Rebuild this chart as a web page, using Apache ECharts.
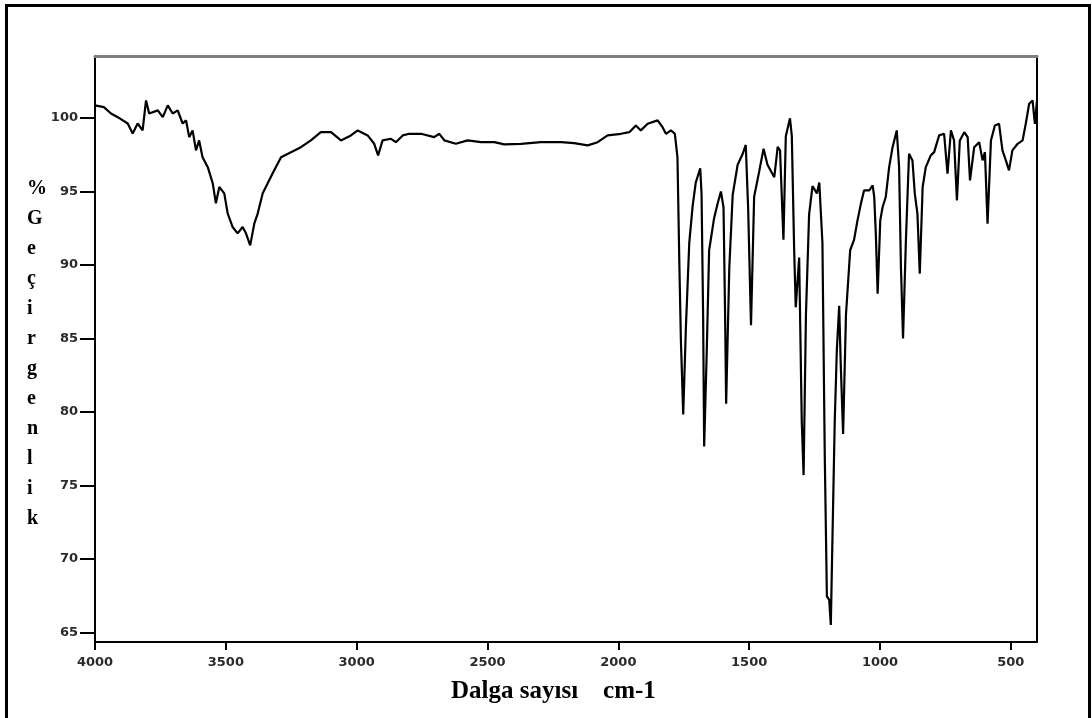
<!DOCTYPE html>
<html>
<head>
<meta charset="utf-8">
<script src="https://cdn.jsdelivr.net/npm/echarts@6/dist/echarts.min.js"></script>
<style>
html,body{margin:0;padding:0;background:#fff;}
#chart{width:1092px;height:718px;}
</style>
</head>
<body>
<div id="chart"></div>
<script>
// Wavenumber (cm-1) of each traced point
const wavenumbers = [4000,3966,3939,3913,3875,3856,3837,3818,3805,3793,
3760,3741,3722,3703,3684,3665,3652,3640,3627,3614,
3602,3589,3569,3550,3538,3525,3506,3493,3474,3455,
3436,3423,3407,3391,3378,3359,3340,3321,3289,3251,
3213,3175,3137,3098,3060,3022,2996,2958,2933,2918,
2901,2869,2850,2824,2799,2754,2704,2684,2665,2621,
2576,2525,2474,2436,2372,2296,2219,2169,2117,2079,
2041,1990,1958,1933,1914,1888,1850,1831,1818,1799,
1784,1774,1767,1761,1752,1742,1729,1716,1704,1687,
1682,1676,1672,1662,1653,1634,1621,1608,1598,1592,
1588,1576,1563,1544,1525,1513,1504,1493,1481,1462,
1445,1430,1404,1391,1382,1369,1360,1344,1337,1328,
1322,1309,1299,1292,1283,1271,1258,1241,1232,1220,
1211,1203,1194,1188,1181,1173,1165,1156,1150,1141,
1130,1114,1099,1086,1073,1061,1041,1028,1022,1016,
1009,999,990,978,965,952,936,927,920,912,
901,889,876,867,857,848,837,825,806,793,
774,755,742,729,717,706,695,678,665,656,
640,621,608,599,589,576,561,545,532,519,
507,494,474,455,443,430,417,408,400];

// % transmittance at each point
const transmittance = [100.84,100.72,100.29,100.04,99.61,98.93,99.61,99.14,101.18,100.29,
100.50,100.04,100.84,100.29,100.50,99.61,99.82,98.68,99.14,97.78,
98.46,97.32,96.64,95.54,94.18,95.29,94.86,93.50,92.57,92.14,
92.57,92.14,91.32,92.82,93.50,94.86,95.54,96.22,97.32,97.66,
98.00,98.46,99.02,99.02,98.46,98.80,99.14,98.80,98.23,97.44,
98.46,98.57,98.34,98.80,98.91,98.91,98.68,98.91,98.46,98.23,
98.46,98.34,98.34,98.19,98.23,98.34,98.34,98.27,98.12,98.34,
98.80,98.91,99.02,99.48,99.14,99.59,99.82,99.36,98.91,99.14,
98.91,97.30,90.26,84.92,79.82,85.65,91.47,94.01,95.60,96.56,
94.86,86.62,77.64,84.19,90.99,93.17,94.14,94.99,93.90,86.62,
80.55,89.77,94.75,96.81,97.53,98.15,93.90,85.89,94.63,96.32,
97.90,96.81,95.96,98.02,97.78,91.71,98.75,99.96,98.75,90.99,
87.11,90.50,79.34,75.70,86.62,93.41,95.35,94.86,95.60,91.47,
76.92,67.45,67.21,65.51,72.06,79.34,84.19,87.22,83.22,78.49,
86.62,90.99,91.71,93.02,94.16,95.06,95.06,95.40,94.61,92.12,
88.04,93.02,93.93,94.61,96.64,98.00,99.14,96.64,89.85,84.99,
91.66,97.55,97.10,94.84,93.48,89.40,95.29,96.64,97.44,97.66,
98.80,98.91,96.20,99.14,98.46,94.38,98.46,99.02,98.68,95.74,
98.00,98.34,97.10,97.66,92.80,98.46,99.48,99.59,97.78,97.10,
96.42,97.78,98.23,98.46,99.59,100.95,101.18,99.59,101.18];

const xTicks = [4000,3500,3000,2500,2000,1500,1000,500];
const yTicks = [65,70,75,80,85,90,95,100];
const yTitle = ['%','G','e','ç','i','r','g','e','n','l','i','k'];
const xTitle = 'Dalga sayısı    cm-1';

const n = Math.min(wavenumbers.length, transmittance.length);
const seriesData = [];
for (let i = 0; i < n; i++) seriesData.push([wavenumbers[i], transmittance[i]]);

const chart = echarts.init(document.getElementById('chart'), null, {renderer:'canvas'});
const labelFont = {fontFamily:'DejaVu Sans', fontWeight:'bold', fontSize:13, color:'#2a2a2a'};
chart.setOption({
  animation:false,
  backgroundColor:'#fff',
  grid:{left:95, right:55, top:56, bottom:76, containLabel:false},
  xAxis:[{
    type:'value', inverse:true, min:400, max:4000,
    axisLine:{show:true, onZero:false, lineStyle:{color:'#000', width:2}},
    axisTick:{show:true, length:8, customValues:xTicks, lineStyle:{color:'#000', width:2}},
    axisLabel:{show:true, margin:14, customValues:xTicks, formatter:v=>String(v), ...labelFont},
    splitLine:{show:false}
  },{
    type:'value', inverse:true, min:400, max:4000, position:'top',
    axisLine:{show:true, onZero:false, lineStyle:{color:'#808080', width:3}},
    axisTick:{show:false}, axisLabel:{show:false}, splitLine:{show:false}
  }],
  yAxis:[{
    type:'value', min:64.35, max:104.2,
    axisLine:{show:true, onZero:false, lineStyle:{color:'#000', width:2}},
    axisTick:{show:true, length:15, customValues:yTicks, lineStyle:{color:'#000', width:2}},
    axisLabel:{show:true, margin:17, customValues:yTicks, formatter:v=>String(v), ...labelFont},
    splitLine:{show:false}
  },{
    type:'value', min:64.35, max:104.2, position:'right',
    axisLine:{show:true, onZero:false, lineStyle:{color:'#000', width:2}},
    axisTick:{show:false}, axisLabel:{show:false}, splitLine:{show:false}
  }],
  series:[{
    type:'line', data:seriesData, showSymbol:false, symbol:'none',
    lineStyle:{color:'#000', width:2.2}, clip:true
  }],
  graphic:[
    {type:'rect', shape:{x:6.5, y:5.5, width:1083, height:740},
     style:{fill:null, stroke:'#000', lineWidth:3}, silent:true, z:-1},
    {type:'text', left:27, top:174,
     style:{text:yTitle.join('\n'), font:'bold 20px "Liberation Serif"', lineHeight:30, fill:'#000'}},
    {type:'text', left:451, top:679,
     style:{text:xTitle, font:'bold 25px "Liberation Serif"', fill:'#000'}}
  ]
});
</script>
</body>
</html>
